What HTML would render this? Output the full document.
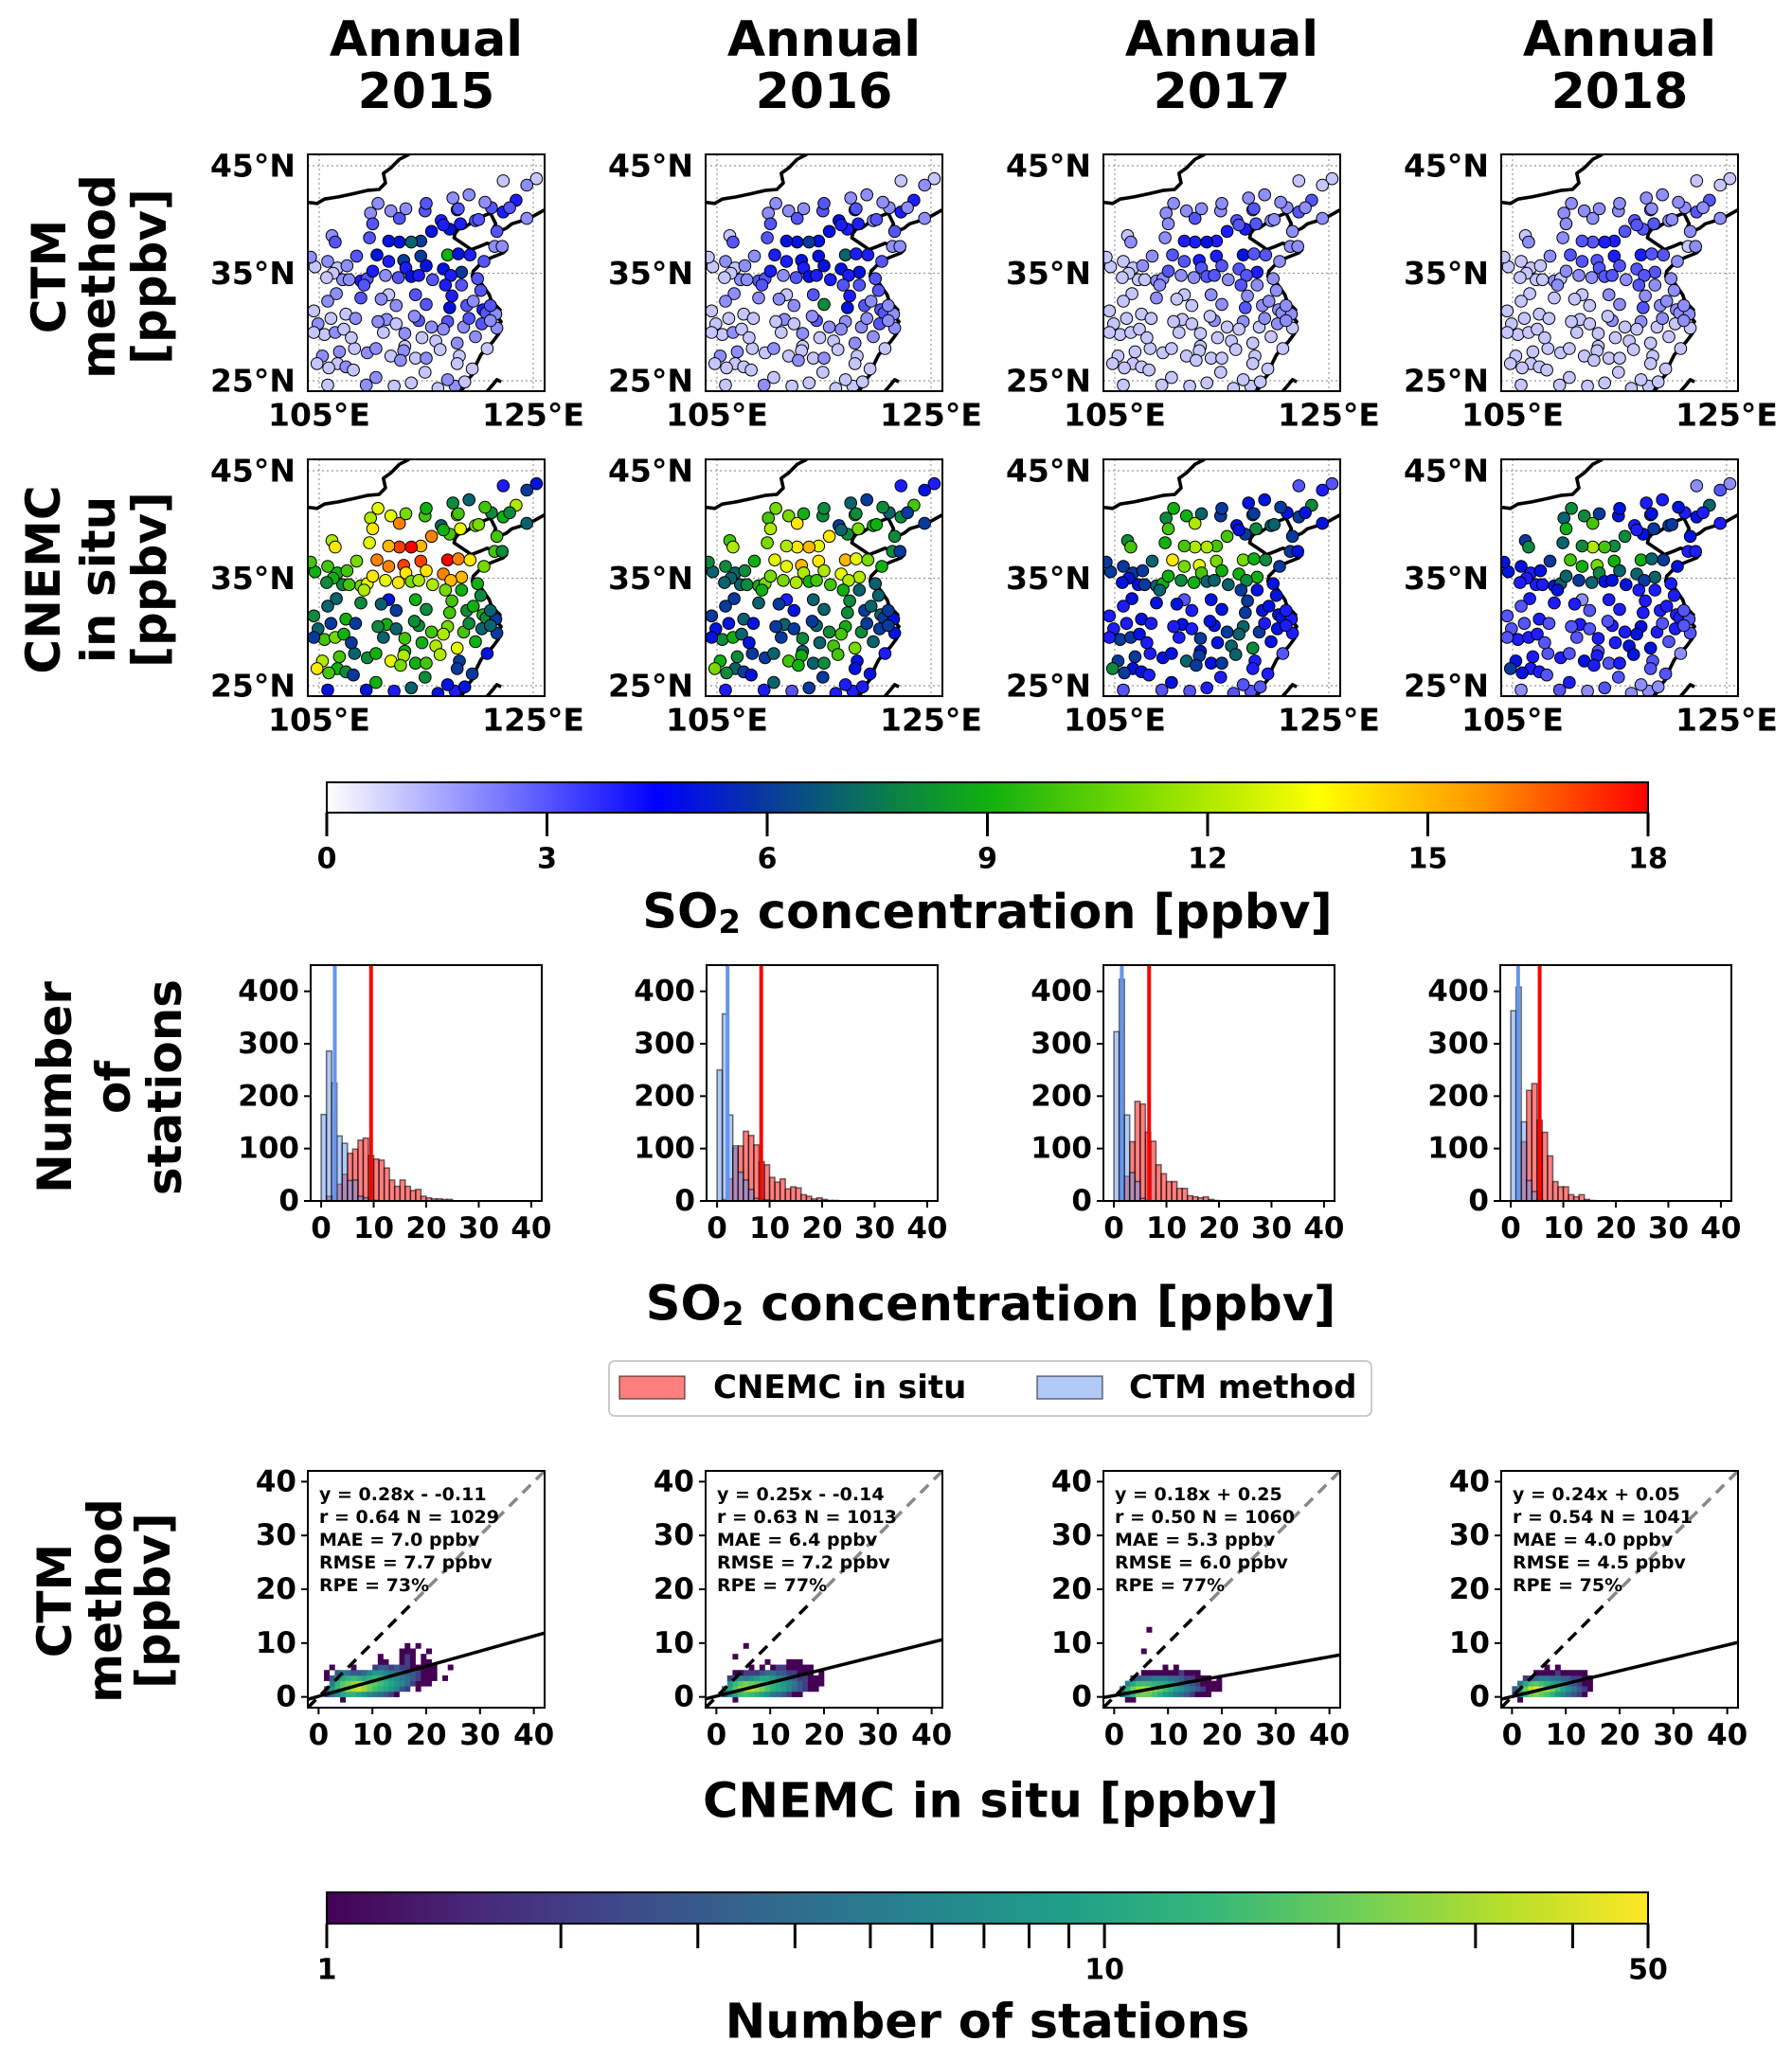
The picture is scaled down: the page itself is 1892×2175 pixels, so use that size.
<!DOCTYPE html>
<html><head><meta charset="utf-8">
<style>
html,body{margin:0;padding:0;background:#fff;}
svg{display:block;font-family:"DejaVu Sans","Liberation Sans",sans-serif;font-weight:bold;}
</style></head>
<body>
<svg id="fig" width="1892" height="2175" viewBox="0 0 1892 2175" xmlns="http://www.w3.org/2000/svg">
<defs>
<linearGradient id="so2grad" x1="0" x2="1" y1="0" y2="0">
<stop offset="0" stop-color="#ffffff"/><stop offset="0.25" stop-color="#0000ff"/><stop offset="0.33" stop-color="#0838a0"/><stop offset="0.42" stop-color="#0a7a50"/><stop offset="0.5" stop-color="#10b010"/><stop offset="0.62" stop-color="#80dd00"/><stop offset="0.75" stop-color="#ffff00"/><stop offset="0.87" stop-color="#ff9900"/><stop offset="1" stop-color="#ff0000"/>
</linearGradient>
<linearGradient id="virgrad" x1="0" x2="1" y1="0" y2="0">
<stop offset="0" stop-color="#440154"/><stop offset="0.111" stop-color="#482878"/><stop offset="0.222" stop-color="#3e4989"/><stop offset="0.333" stop-color="#31688e"/><stop offset="0.444" stop-color="#26828e"/><stop offset="0.556" stop-color="#1f9e89"/><stop offset="0.667" stop-color="#35b779"/><stop offset="0.778" stop-color="#6ece58"/><stop offset="0.889" stop-color="#b5de2b"/><stop offset="1" stop-color="#fde725"/>
</linearGradient>
</defs>
</svg>
<script>
// ---------- DATA ----------
const years = ['2015','2016','2017','2018'];
const stationLon = [106.2,106.5,105.8,106.7,107.2,108.9,109.5,107.8,106.3,105.7, 106.6,108.9,107.5,106.1,104.9,105.5,106.5,107.3,108.4,106.9, 106.7,105.3,104.8,107.5,105.9,108.3,109.5,108.2,109.4,110.3, 109.8,111.7,110.0,112.5,113.1,114.9,116.4,117.2,118.2,119.6, 117.9,115.5,114.5,113.6,112.5,111.5,112.9,113.1,114.5,115.0, 116.6,117.0,118.0,119.1,120.4,121.4,122.1,116.6,118.3,117.3, 113.6,114.3,112.4,111.2,114.0,115.6,116.8,117.2,118.8,119.4, 120.3,120.6,121.5,120.2,121.6,120.7,119.6,118.5,117.0,115.9, 114.3,113.0,112.9,111.7,112.6,113.6,116.1,117.7,118.6,119.3, 118.1,117.0,114.9,114.0,115.0,116.3,117.9,111.3,112.2,113.9, 112.2,111.5,110.8,109.2,110.0,110.4,111.5,109.7,108.5,107.6, 104.6,104.2,104.5,105.8,104.5,119.9,121.6,122.2,123.4,121.1, 124.4,122.8,125.3,124.4,122.2,119.0,117.5,115.0,110.5,118.0, 120.5,111.0,110.3,113.0,114.6,116.6,115.0,117.4,119.8,120.1, 118.3,121.0,117.9,112.0,105.8,108.0,110.5,115.5,119.0,121.0];
const stationLat = [38.5,37.9,36.1,35.5,34.4,34.3,34.5,34.4,35.0,34.6, 33.1,32.7,31.2,30.8,30.3,29.3,29.5,29.8,30.8,27.7, 26.6,27.3,26.6,26.3,26.2,28.0,27.6,26.0,24.6,25.3, 40.6,40.8,39.6,40.1,41.0,40.8,39.9,39.1,39.6,39.9, 40.9,38.9,38.0,37.9,37.9,36.1,36.2,35.5,36.6,35.7, 39.5,36.7,36.8,36.7,36.1,37.5,37.5,35.4,35.1,34.8, 34.7,34.8,34.6,34.8,33.0,34.4,33.9,31.8,32.0,32.4, 31.6,31.3,31.2,30.3,29.9,28.0,29.1,30.0,30.5,28.7, 30.6,28.2,27.8,27.3,26.9,24.8,24.3,24.5,24.9,26.1, 27.3,25.1,25.8,27.1,27.1,27.9,28.5,30.7,30.3,31.0, 32.0,33.0,32.6,33.9,35.2,36.7,38.0,38.3,36.6,35.7, 35.6,36.5,31.5,32.4,29.5,40.0,38.9,40.7,41.8,41.1, 40.1,41.1,43.8,43.2,43.6,42.3,42.0,41.5,41.5,41.0, 41.6,29.5,28.0,29.4,29.0,29.8,32.1,32.9,34.5,33.4, 33.9,32.0,26.6,24.5,24.6,29.0,30.5,30.0,30.8,30.6];
const ctm2015 = [2,3,2,1,2,4,3,2,1,1, 2,3,1,1,2,1,2,1,2,2, 1,2,1,2,1,1,2,1,2,2, 2,2,3,3,2,3,4,5,4,3, 4,5,6,7,5,4,6,4,6,5, 4,9,5,4,3,2,2,5,6,4, 5,4,3,2,3,3,4,5,3,2, 4,3,2,3,2,1,2,2,3,1, 3,1,2,1,2,1,1,2,1,1, 1,2,1,1,2,1,2,2,1,2, 2,1,2,3,4,5,5,3,3,2, 1,2,1,2,1,3,3,4,4,3, 2,3,1,2,1,2,2,3,2,3, 2,1,2,2,1,2,3,4,3,3, 3,3,1,1,1,1,2,2,3,2];
const ctm2016 = [1,3,2,1,2,3,3,2,1,1, 2,2,1,1,1,1,2,1,1,2, 1,2,1,1,1,1,1,1,2,1, 2,2,3,3,2,3,5,4,4,2, 4,5,5,6,5,4,5,4,5,5, 4,7,4,4,3,2,2,5,5,4, 5,4,3,2,3,4,3,5,3,2, 3,3,2,3,2,1,2,2,2,1, 3,1,1,1,2,1,1,1,1,1, 1,1,1,1,2,1,2,2,1,2, 2,1,2,3,4,4,5,3,2,2, 1,1,1,2,1,3,3,4,4,2, 2,2,1,2,1,2,2,3,2,3, 2,1,2,2,1,2,8,4,3,3, 3,2,1,1,1,1,1,2,2,2];
const ctm2017 = [1,2,1,1,1,2,2,1,1,1, 1,2,1,1,1,1,1,1,1,1, 1,1,1,1,1,1,1,1,1,1, 2,2,2,3,2,2,3,4,3,2, 3,4,4,5,4,3,4,3,4,3, 3,5,3,3,2,2,2,3,4,3, 3,3,2,2,2,2,3,3,2,2, 2,2,2,2,1,1,1,1,2,1, 2,1,1,1,1,1,1,1,1,1, 1,1,1,1,1,1,1,1,1,1, 1,1,1,2,3,3,4,2,2,2, 1,1,1,1,1,2,2,3,3,2, 2,2,1,1,1,2,2,2,2,3, 2,1,1,1,1,1,2,2,2,2, 2,2,1,1,1,1,1,1,2,2];
const ctm2018 = [1,2,1,1,1,2,1,1,1,1, 1,1,1,1,1,1,1,1,1,1, 1,1,1,1,1,1,1,1,1,1, 2,2,2,2,2,2,3,3,3,2, 3,3,4,4,3,3,3,3,4,3, 3,4,3,3,2,1,2,3,3,3, 3,3,2,2,2,2,3,3,2,2, 2,2,2,1,1,1,1,1,2,1, 2,1,1,1,1,1,1,1,1,1, 1,1,1,1,1,1,1,1,1,1, 1,1,1,2,2,3,3,2,2,1, 1,1,1,1,1,2,2,3,3,2, 2,2,1,1,1,2,2,2,2,2, 2,1,1,1,1,1,2,2,2,2, 2,2,1,1,1,1,1,1,2,2];
const obs2015 = [12,14,10,9,8,11,13,10,9,8, 7,8,9,6,7,10,11,9,6,10, 9,12,14,8,10,7,8,6,5,9, 12,13,14,16,11,10,7,10,13,11, 12,16,15,18,17,16,17,14,17,14, 9,18,16,14,11,10,8,16,15,15, 11,12,14,13,9,12,11,10,8,9, 9,8,6,7,6,5,9,10,11,12, 8,9,12,13,11,7,5,4,5,6, 6,5,8,9,10,12,13,9,7,8, 6,5,7,12,14,16,15,13,11,10, 9,10,8,7,6,11,10,9,12,8, 7,8,5,6,4,7,8,9,13,10, 10,7,9,10,9,12,8,10,9,8, 9,7,6,4,5,6,8,10,8,7];
const obs2016 = [10,12,8,7,7,9,11,8,7,7, 6,7,7,5,5,8,9,7,5,8, 7,9,11,6,8,6,6,5,4,7, 10,11,12,14,9,8,6,8,11,9, 10,14,13,15,14,13,15,12,14,12, 7,15,13,11,9,8,6,13,12,12, 9,10,12,11,7,10,9,8,6,7, 7,6,5,6,5,4,7,8,9,10, 7,7,9,10,9,6,4,4,4,5, 5,4,6,7,8,10,11,7,6,6, 5,4,6,9,11,13,12,11,9,8, 7,8,6,6,5,9,8,8,10,7, 6,6,4,5,4,6,7,8,11,8, 8,6,7,8,7,10,7,8,7,7, 7,6,5,3,4,5,6,8,6,6];
const obs2017 = [8,10,6,6,5,7,9,6,5,5, 5,5,5,4,4,6,6,5,4,6, 5,6,8,5,6,4,5,4,3,5, 8,9,10,12,7,6,5,6,8,7, 7,10,10,12,12,11,13,10,11,9, 5,11,9,8,6,6,5,9,9,8, 7,7,9,8,5,7,6,6,5,5, 5,5,4,5,4,3,5,6,7,7, 5,5,6,7,6,4,3,3,3,4, 4,3,4,5,6,7,8,5,4,5, 4,3,5,7,9,14,10,9,7,6, 6,6,4,4,4,7,6,6,8,5, 5,5,3,4,3,5,5,6,9,6, 6,4,5,6,5,7,5,6,5,5, 5,4,4,3,3,4,4,6,4,4];
const obs2018 = [6,8,5,4,4,5,7,4,4,4, 4,4,4,3,3,4,4,4,3,4, 4,5,6,4,5,3,4,3,3,4, 7,8,9,10,6,5,4,5,6,6, 6,8,8,10,12,9,11,8,9,7, 4,9,7,6,5,4,4,7,7,6, 5,5,7,6,4,5,4,4,4,4, 4,4,3,4,3,2,3,4,5,5, 4,3,4,5,4,3,2,2,2,3, 3,2,3,3,4,5,5,4,3,3, 3,2,4,5,7,10,8,7,6,5, 5,5,3,3,3,6,5,5,7,4, 4,4,2,3,2,4,4,5,8,5, 5,3,3,4,4,5,4,4,4,4, 4,3,3,2,2,3,3,4,3,3];
const histCtm2015 = [165,286,225,124,110,39,40,9,6,2,1];
const histObs2015 = [0,9,9,32,51,91,99,116,120,87,80,78,63,40,28,40,28,20,22,9,6,4,4,3,3];
const histCtm2016 = [250,357,164,105,55,40,22,5,3,2,1];
const histObs2016 = [0,3,42,101,105,133,125,107,75,69,45,36,42,23,27,25,12,9,4,6,3,1,1];
const histCtm2017 = [323,423,164,54,37,5,1];
const histObs2017 = [0,0,47,113,190,185,131,114,69,52,37,37,24,24,10,8,6,8,3,1];
const histCtm2018 = [363,408,151,39,18,3];
const histObs2018 = [0,0,113,211,224,154,131,86,37,27,27,12,8,12,3,1];
const meanCtm = [2.6,2.0,1.5,1.4];
const meanObs = [9.5,8.4,6.7,5.5];
const slopes = [0.28,0.25,0.18,0.24];
const intercepts = [0.11,0.14,0.25,0.05];
const statText2015 = ['y = 0.28x - -0.11','r = 0.64 N = 1029','MAE = 7.0 ppbv','RMSE = 7.7 ppbv','RPE = 73%'];
const statText2016 = ['y = 0.25x - -0.14','r = 0.63 N = 1013','MAE = 6.4 ppbv','RMSE = 7.2 ppbv','RPE = 77%'];
const statText2017 = ['y = 0.18x + 0.25','r = 0.50 N = 1060','MAE = 5.3 ppbv','RMSE = 6.0 ppbv','RPE = 77%'];
const statText2018 = ['y = 0.24x + 0.05','r = 0.54 N = 1041','MAE = 4.0 ppbv','RMSE = 4.5 ppbv','RPE = 75%'];
const hb2015 = [[-1,4,[1]],[0,1,[2,4,6,10,12,12,10,8,6,5,4,3,2,1]],[1,1,[3,8,14,20,25,30,35,28,20,15,12,10,8,6,3,2,0,1]],[2,2,[5,12,18,22,26,30,28,20,18,15,12,10,8,6,4,2,1,1,1]],[3,1,[1,3,8,10,12,14,12,10,12,14,12,10,8,6,5,4,3,2,1,1,1,0,1]],[4,1,[1,0,3,5,4,3,3,4,6,8,8,6,5,4,4,3,3,2,1,1,1]],[5,2,[1,0,0,0,1,0,0,0,2,3,3,2,3,2,2,1,1,1,1,1,0,0,1]],[6,11,[1,1,0,0,1,2,1,0,1,1]],[7,11,[1,0,0,0,1,2,1,0,1]],[8,15,[1,1,1,0,0,1]],[9,16,[1,0,1]]];
const hb2016 = [[-1,3,[1]],[0,1,[3,6,10,14,16,14,12,9,7,5,4,3,2,1,1]],[1,1,[4,10,18,26,32,35,28,22,16,12,10,8,6,4,3,2,1,1]],[2,2,[8,14,18,22,20,18,16,14,12,10,8,6,5,3,2,1,1,1]],[3,2,[2,5,6,5,6,8,10,10,8,6,5,4,3,2,2,1,1,1]],[4,3,[1,1,2,2,2,3,4,4,3,3,2,2,1,1,1,0,1]],[5,6,[1,0,1,0,1,2,2,1,1,1,1,1]],[6,9,[1,0,0,0,1,1,1]],[7,3,[1]],[9,5,[1]]];
const hb2017 = [[-1,2,[1,1]],[0,1,[4,8,14,20,22,20,16,12,9,7,5,4,3,2,1,1,1]],[1,1,[5,12,22,30,36,32,26,20,15,12,9,7,5,4,3,2,1,1,1]],[2,2,[6,10,14,15,14,12,11,10,8,6,5,4,3,2,1,1,1,1]],[3,3,[2,3,4,4,5,5,5,4,4,3,2,2,1,1,1,0,1]],[4,5,[1,1,1,1,1,1,1,2,1,1,1]],[5,9,[1,0,1]],[8,5,[1]],[12,6,[1]]];
const hb2018 = [[-1,1,[1]],[0,0,[2,8,14,20,24,20,16,12,8,6,4,3,2,1]],[1,0,[3,10,20,34,45,40,30,22,15,10,7,5,3,2,1]],[2,1,[5,10,16,18,15,12,10,8,6,4,3,2,1,1]],[3,2,[2,3,4,5,5,4,4,3,3,2,2,1,1]],[4,4,[1,1,1,1,2,1,1,1,1,1]],[5,6,[1,0,1]]];
const so2Ticks = [0,3,6,9,12,15,18];
const countTicks = [1,2,3,4,5,6,7,8,9,10,20,30,40,50];
const countTickLabels = ['1','','','','','','','','','10','','','','50'];
const histYTicks = [0,100,200,300,400];
const xTicks40 = [0,10,20,30,40];
const latTicks = [45,35,25];
const lonTicks = [105,125];
const lonLabels = ['105°E','125°E'];
const latLabels = ['45°N','35°N','25°N'];

// ---------- HELPERS ----------
const NS='http://www.w3.org/2000/svg';
const svg=document.getElementById('fig');
function mk(tag,parent){const e=document.createElementNS(NS,tag);(parent||svg).appendChild(e);return e;}
function at(e,o){for(const k in o)e.setAttribute(k,o[k]);return e;}
function hex(c){return [parseInt(c.slice(1,3),16),parseInt(c.slice(3,5),16),parseInt(c.slice(5,7),16)];}
function interp(stops,t){t=Math.max(0,Math.min(1,t));for(let i=1;i<stops.length;i++){if(t<=stops[i][0]){const a=stops[i-1],b=stops[i];const f=(t-a[0])/(b[0]-a[0]);const ca=hex(a[1]),cb=hex(b[1]);return 'rgb('+ca.map((v,j)=>Math.round(v+(cb[j]-v)*f)).join(',')+')';}}return stops[stops.length-1][1];}
const so2Stops=[[0,'#ffffff'],[0.25,'#0000ff'],[0.33,'#0838a0'],[0.42,'#0a7a50'],[0.5,'#10b010'],[0.62,'#80dd00'],[0.75,'#ffff00'],[0.87,'#ff9900'],[1,'#ff0000']];
const virStops=[[0,'#440154'],[0.111,'#482878'],[0.222,'#3e4989'],[0.333,'#31688e'],[0.444,'#26828e'],[0.556,'#1f9e89'],[0.667,'#35b779'],[0.778,'#6ece58'],[0.889,'#b5de2b'],[1,'#fde725']];
function so2Color(v){return interp(so2Stops,v/18);}
function virColor(n){return interp(virStops,Math.log10(Math.max(1,n))/Math.log10(50));}
function txt(parent,x,y,s,size,anchor){const t=mk('text',parent);at(t,{x:x,y:y,'font-size':size,'text-anchor':anchor||'middle','dominant-baseline':'central',fill:'#000'});t.textContent=s;return t;}

const colLeft=[325,745,1165,1585];
const histLeft=[328,746,1165,1584];
const TICKF=31;
const BIGF=51;

// ---------- COLUMN TITLES ----------
years.forEach((yr,i)=>{
  const cx=colLeft[i]+125;
  const t1=txt(svg,cx,42,'Annual',52);
  
  
  const t2=txt(svg,cx,97,yr,52);
  
  
});

// ---------- ROW LABELS ----------
function rowLabel(lines,xs,cy,name){
  const g=mk('g');
  
  
  lines.forEach((s,k)=>{const t=txt(g,0,0,s,50);t.setAttribute('transform','translate('+xs[k]+','+cy+') rotate(-90)');});
}
rowLabel(['CTM','method','[ppbv]'],[52,104,158],292,'row-label-ctm-map');
rowLabel(['CNEMC','in situ','[ppbv]'],[46,104,158],612,'row-label-cnemc-map');
rowLabel(['Number','of','stations'],[58,120,174],1148,'row-label-histogram');
rowLabel(['CTM','method','[ppbv]'],[58,111,162],1690,'row-label-scatter');

// ---------- MAPS ----------
const coastLon=[126.06,124.8,124,123,122.5,121.6,121.2,121.5,121,120,119.5,118.5,118,117.7,117.6,118.2,118.8,119.2,120,120.7,121.6,122.5,122.2,121.2,120.5,120,119.4,119.3,120.2,120.9,121.1,121.9,121.5,122,121.6,121.8,121.2,120.6,120.1,119.7,119.5,118.9,118.3];
const coastLat=[40.9,40.2,39.9,39.6,39.2,38.8,39.0,39.6,40.6,40.2,39.9,39.2,39.1,38.7,38.3,37.9,37.5,37.2,37.5,37.8,37.5,37.2,36.9,36.5,36.2,35.8,35.2,34.7,34.0,33.0,32.4,31.6,31.1,30.5,30.1,29.4,28.6,28.0,27.4,26.6,25.8,25.1,24.03];
const borderLon=[103.94,104.8,105.5,106.8,108.2,109.5,110.6,111.2,111.0,111.7,112.5,113.4];
const borderLat=[41.6,41.5,41.9,42.1,42.4,42.7,42.8,43.4,44.3,44.8,45.6,46.06];
const taiwanLon=[120.7,121.2,121.6,122.0];
const taiwanLat=[24.03,24.6,25.1,24.9];
const stationSets=[[ctm2015,ctm2016,ctm2017,ctm2018],[obs2015,obs2016,obs2017,obs2018]];
const rowTop=[163,485];
[0,1].forEach(r=>{
  years.forEach((yr,i)=>{
    const L=colLeft[i],T=rowTop[r],W=250;
    const X=lon=>L+(lon-103.94)*11.3, Y=lat=>T+(46.06-lat)*11.35;
    const g=mk('g');
    
    
    const cid='clip'+r+i;
    const cp=mk('clipPath',g);at(cp,{id:cid});at(mk('rect',cp),{x:L,y:T,width:W,height:W});
    const inner=mk('g',g);inner.setAttribute('clip-path','url(#'+cid+')');
    latTicks.forEach(la=>{const ln=mk('line',inner);at(ln,{x1:L,x2:L+W,y1:Y(la),y2:Y(la),stroke:'#999','stroke-width':1.2,'stroke-dasharray':'2,3'});
      
      });
    lonTicks.forEach(lo=>{const ln=mk('line',inner);at(ln,{y1:T,y2:T+W,x1:X(lo),x2:X(lo),stroke:'#999','stroke-width':1.2,'stroke-dasharray':'2,3'});
      
      });
    const mkPath=(lons,lats,name)=>{const p=mk('path',inner);at(p,{d:lons.map((v,k)=>(k?'L':'M')+X(v).toFixed(1)+','+Y(lats[k]).toFixed(1)).join(''),fill:'none',stroke:'#000','stroke-width':3.6,'stroke-linejoin':'round'});
      
      };
    mkPath(borderLon,borderLat,'border-line');
    mkPath(coastLon,coastLat,'coastline');
    mkPath(taiwanLon,taiwanLat,'taiwan-coast');
    const vals=stationSets[r][i];
    stationLon.forEach((lo,k)=>{
      const c=mk('circle',inner);at(c,{cx:X(lo).toFixed(1),cy:Y(stationLat[k]).toFixed(1),r:6.3,fill:so2Color(vals[k]),stroke:'#000','stroke-width':1});
      
      
    });
    const fr=mk('rect',g);at(fr,{x:L,y:T,width:W,height:W,fill:'none',stroke:'#000','stroke-width':2});
    
    
    latTicks.forEach((la,k)=>{const t=txt(g,L-13,Y(la),latLabels[k],TICKF+2,'end');
      
      });
    lonTicks.forEach((lo,k)=>{const t=txt(g,X(lo),T+W+25,lonLabels[k],TICKF+2,'middle');
      
      });
  });
});

// ---------- COLORBAR SO2 ----------
(function(){
  const g=mk('g');
  
  
  const x0=345,x1=1740,y0=826,y1=858;
  const r=mk('rect',g);at(r,{x:x0,y:y0,width:x1-x0,height:y1-y0,fill:'url(#so2grad)',stroke:'#000','stroke-width':2});
  so2Ticks.forEach(v=>{const x=x0+(v/18)*(x1-x0);
    const l=mk('line',g);at(l,{x1:x,x2:x,y1:y1,y2:883,stroke:'#000','stroke-width':3});
    
    
    const t=txt(g,x,907,String(v),30);
    
    });
  const t=mk('text',g);at(t,{x:(x0+x1)/2,y:963,'font-size':BIGF,'text-anchor':'middle','dominant-baseline':'central'});
  t.innerHTML='SO<tspan font-size="34" dy="11">2</tspan><tspan dy="-11"> concentration [ppbv]</tspan>';
  
  
})();

// ---------- HISTOGRAMS ----------
const histCtm=[histCtm2015,histCtm2016,histCtm2017,histCtm2018];
const histObs=[histObs2015,histObs2016,histObs2017,histObs2018];
years.forEach((yr,i)=>{
  const L=histLeft[i],T=1019,W=244,H=249,B=T+H;
  const X=v=>L+(v+2)/44*W, Y=n=>B-n/450*H;
  const g=mk('g');
  
  
  histObs[i].forEach((n,k)=>{if(!n)return;const b=mk('rect',g);at(b,{x:X(k),y:Y(n),width:X(k+1)-X(k),height:B-Y(n),fill:'rgba(255,0,0,0.5)',stroke:'rgba(0,0,0,0.55)','stroke-width':1.5});
    
    });
  histCtm[i].forEach((n,k)=>{if(!n)return;const b=mk('rect',g);at(b,{x:X(k),y:Y(n),width:X(k+1)-X(k),height:B-Y(n),fill:'rgba(100,149,237,0.5)',stroke:'rgba(0,0,0,0.55)','stroke-width':1.5});
    
    });
  const mb=mk('line',g);at(mb,{x1:X(meanCtm[i]),x2:X(meanCtm[i]),y1:T,y2:B,stroke:'#6495ed','stroke-width':4});
  
  
  const mr=mk('line',g);at(mr,{x1:X(meanObs[i]),x2:X(meanObs[i]),y1:T,y2:B,stroke:'#ff0000','stroke-width':4});
  
  
  const fr=mk('rect',g);at(fr,{x:L,y:T,width:W,height:H,fill:'none',stroke:'#000','stroke-width':2});
  
  
  histYTicks.forEach(v=>{const l=mk('line',g);at(l,{x1:L-7,x2:L,y1:Y(v),y2:Y(v),stroke:'#000','stroke-width':2});
    
    
    const t=txt(g,L-12,Y(v),String(v),TICKF,'end');
    
    });
  xTicks40.forEach(v=>{const l=mk('line',g);at(l,{x1:X(v),x2:X(v),y1:B,y2:B+7,stroke:'#000','stroke-width':2});
    
    
    const t=txt(g,X(v),B+29,String(v),TICKF);
    
    });
});
(function(){
  const t=mk('text');at(t,{x:1046,y:1377,'font-size':BIGF,'text-anchor':'middle','dominant-baseline':'central'});
  t.innerHTML='SO<tspan font-size="34" dy="11">2</tspan><tspan dy="-11"> concentration [ppbv]</tspan>';
  
  
  const g=mk('g');
  
  
  const box=mk('rect',g);at(box,{x:643,y:1437,width:805,height:58,rx:6,fill:'#fff',stroke:'#ccc','stroke-width':2});
  const p1=mk('rect',g);at(p1,{x:654,y:1453,width:69,height:24,fill:'rgba(255,0,0,0.5)',stroke:'rgba(0,0,0,0.55)','stroke-width':1.5});
  
  
  const t1=txt(g,753,1465,'CNEMC in situ',34,'start');
  
  
  const p2=mk('rect',g);at(p2,{x:1095,y:1453,width:69,height:24,fill:'rgba(100,149,237,0.5)',stroke:'rgba(0,0,0,0.55)','stroke-width':1.5});
  
  
  const t2=txt(g,1192,1465,'CTM method',34,'start');
  
  
})();

// ---------- SCATTER / 2D HIST ----------
const hbs=[hb2015,hb2016,hb2017,hb2018];
const stats=[statText2015,statText2016,statText2017,statText2018];
years.forEach((yr,i)=>{
  const L=colLeft[i],T=1553,W=250,B=T+W;
  const X=v=>L+(v+2)/44*W, Y=v=>B-(v+2)/44*W;
  const g=mk('g');
  
  
  const cid='sclip'+i;
  const cp=mk('clipPath',g);at(cp,{id:cid});at(mk('rect',cp),{x:L,y:T,width:W,height:W});
  const inner=mk('g',g);inner.setAttribute('clip-path','url(#'+cid+')');
  hbs[i].forEach(row=>{const yb=row[0],xs=row[1];row[2].forEach((n,k)=>{if(!n)return;const xb=xs+k;
    const c=mk('rect',inner);at(c,{x:X(xb).toFixed(2),y:Y(yb+1).toFixed(2),width:(X(xb+1)-X(xb)+0.3).toFixed(2),height:(Y(yb)-Y(yb+1)+0.3).toFixed(2),fill:virColor(n)});
    
    });});
  const d1=mk('line',inner);at(d1,{x1:X(-2),y1:Y(-2),x2:X(18),y2:Y(18),stroke:'#000','stroke-width':3.5,'stroke-dasharray':'12,8'});
  
  
  const d2=mk('line',inner);at(d2,{x1:X(18),y1:Y(18),x2:X(42),y2:Y(42),stroke:'#888','stroke-width':3.5,'stroke-dasharray':'12,8'});
  
  
  const rl=mk('line',inner);at(rl,{x1:X(-2),y1:Y(slopes[i]*-2+intercepts[i]),x2:X(42),y2:Y(slopes[i]*42+intercepts[i]),stroke:'#000','stroke-width':3.5});
  
  
  stats[i].forEach((s,k)=>{const t=txt(g,L+12,T+25+k*24,s,19,'start');
    
    });
  const fr=mk('rect',g);at(fr,{x:L,y:T,width:W,height:W,fill:'none',stroke:'#000','stroke-width':2});
  
  
  xTicks40.forEach(v=>{
    const l=mk('line',g);at(l,{x1:L-7,x2:L,y1:Y(v),y2:Y(v),stroke:'#000','stroke-width':2});
    
    
    const t=txt(g,L-12,Y(v),String(v),TICKF,'end');
    
    
    const l2=mk('line',g);at(l2,{x1:X(v),x2:X(v),y1:B,y2:B+7,stroke:'#000','stroke-width':2});
    
    
    const t2=txt(g,X(v),B+29,String(v),TICKF);
    
    
  });
});
(function(){
  const t=txt(svg,1046,1902,'CNEMC in situ [ppbv]',BIGF);
  
  
})();

// ---------- COLORBAR COUNTS ----------
(function(){
  const g=mk('g');
  
  
  const x0=345,x1=1740,y0=1998,y1=2031;
  const r=mk('rect',g);at(r,{x:x0,y:y0,width:x1-x0,height:y1-y0,fill:'url(#virgrad)',stroke:'#000','stroke-width':2});
  countTicks.forEach((v,k)=>{const x=x0+Math.log10(v)/Math.log10(50)*(x1-x0);
    const l=mk('line',g);at(l,{x1:x,x2:x,y1:y1,y2:2057,stroke:'#000','stroke-width':3});
    
    
    if(countTickLabels[k]){const t=txt(g,x,2080,countTickLabels[k],30);
      
      }});
  const t=txt(g,(x0+x1)/2,2135,'Number of stations',BIGF);
  
  
})();
</script>
</body></html>
